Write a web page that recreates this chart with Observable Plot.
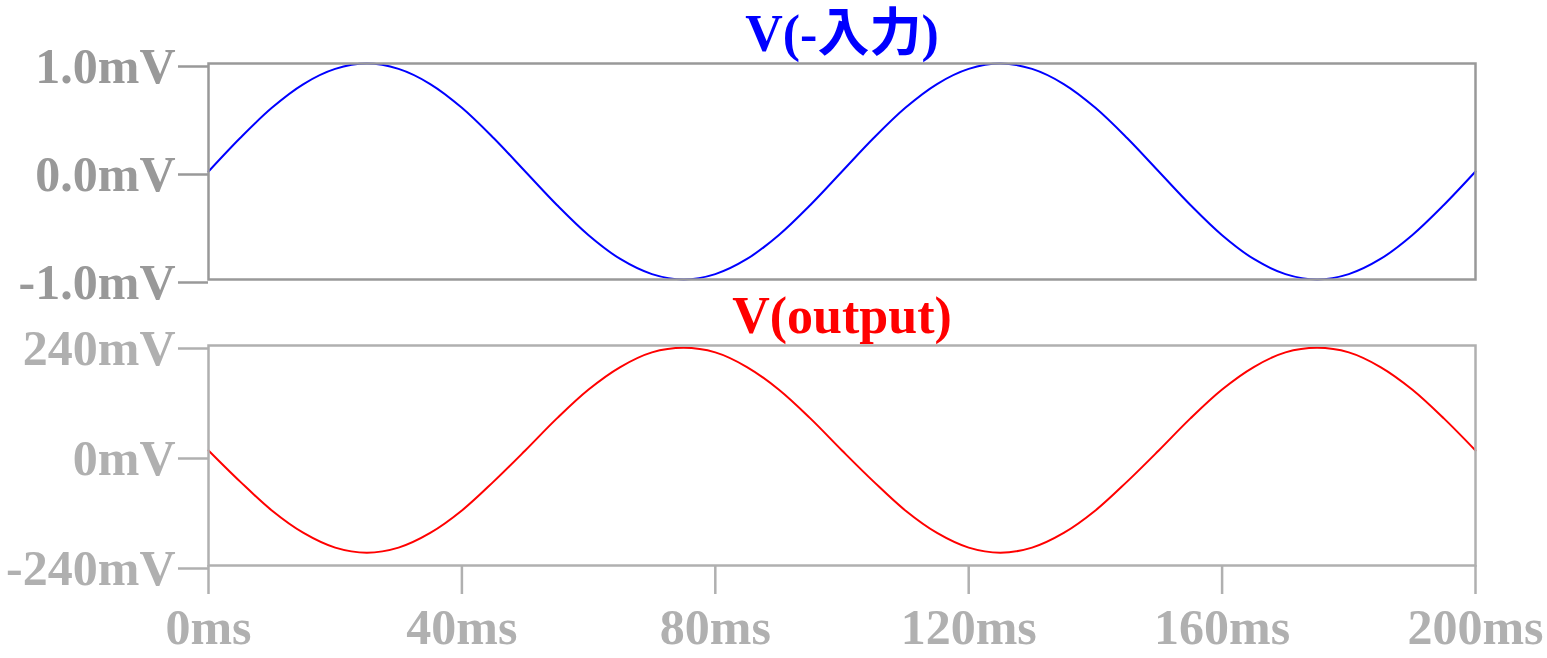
<!DOCTYPE html>
<html>
<head>
<meta charset="utf-8">
<script src="https://cdn.jsdelivr.net/npm/d3@7"></script>
<script src="https://cdn.jsdelivr.net/npm/@observablehq/plot@0.6"></script>
<style>
  html, body { margin: 0; padding: 0; background: #fff; }
  #wrap { position: relative; width: 1547px; height: 658px; overflow: hidden; }
  #wrap > div { position: absolute; left: 0; }
</style>
</head>
<body>
<div id="wrap"><div id="top" style="top:0"></div><div id="bot" style="top:300px"></div></div>
<script>
// Time samples (ms)
const timeMs = [0,5,10,15,20,25,30,35,40,45,50,55,60,65,70,75,80,85,90,95,100,
  105,110,115,120,125,130,135,140,145,150,155,160,165,170,175,180,185,190,195,200];
// V(-入力) in mV
const vInput = [0,0.31,0.59,0.81,0.95,1.0,0.95,0.81,0.59,0.31,0,-0.31,-0.59,-0.81,-0.95,-1.0,-0.95,-0.81,-0.59,-0.31,0,
  0.31,0.59,0.81,0.95,1.0,0.95,0.81,0.59,0.31,0,-0.31,-0.59,-0.81,-0.95,-1.0,-0.95,-0.81,-0.59,-0.31,0];
// V(output) in mV
const vOutput = [11,-57,-120,-169,-201,-212,-201,-169,-120,-57,11,81,144,193,225,235,225,193,144,81,11,
  -57,-120,-169,-201,-212,-201,-169,-120,-57,11,81,144,193,225,235,225,193,144,81,11];

const xTicks = [0,40,80,120,160,200];
const xTickLabels = ["0ms","40ms","80ms","120ms","160ms","200ms"];
const yTopTicks = [-1,0,1];
const yTopLabels = ["-1.0mV","0.0mV","1.0mV"];
const yBotTicks = [-240,0,240];
const yBotLabels = ["-240mV","0mV","240mV"];
const topTitle = "V(-入力)";
const botTitle = "V(output)";

const inputData = timeMs.map((t,i) => ({t, v: vInput[i]}));
const outputData = timeMs.map((t,i) => ({t, v: vOutput[i]}));

const FONT = "'Liberation Serif', 'Noto Sans CJK JP', serif";

const topPlot = Plot.plot({
  width: 1547, height: 300,
  marginTop: 63, marginBottom: 21, marginLeft: 208, marginRight: 72,
  style: {fontFamily: FONT, fontSize: "50px", fontWeight: "bold", color: "#999999", background: "#fff", overflow: "visible"},
  x: {domain: [0,200], axis: null},
  y: {domain: [-1,1], axis: null},
  marks: [
    Plot.axisY({ticks: yTopTicks, tickFormat: d => yTopLabels[yTopTicks.indexOf(d)], tickSize: 30, tickPadding: 3,
      strokeWidth: 2.5, dy: 3, label: null, fontSize: 50, fontWeight: "bold"}),
    Plot.line(inputData, {x: "t", y: "v", stroke: "#0000ff", strokeWidth: 2, curve: "catmull-rom"}),
    Plot.frame({stroke: "#999999", strokeWidth: 2.5}),
    Plot.text([topTitle], {frameAnchor: "top", text: d => d, dy: -13, lineAnchor: "bottom",
      fill: "#0000ff", fontSize: 52, fontWeight: "bold", fontFamily: FONT})
  ]
});
document.getElementById("top").appendChild(topPlot);

const botPlot = Plot.plot({
  width: 1547, height: 358,
  marginTop: 45, marginBottom: 93, marginLeft: 208, marginRight: 72,
  style: {fontFamily: FONT, fontSize: "50px", fontWeight: "bold", color: "#b0b0b0", background: "#fff", overflow: "visible"},
  x: {domain: [0,200], axis: null},
  y: {domain: [-240,240], axis: null},
  marks: [
    Plot.axisY({ticks: yBotTicks, tickFormat: d => yBotLabels[yBotTicks.indexOf(d)], tickSize: 30, tickPadding: 3,
      strokeWidth: 2.5, dy: 3, label: null, fontSize: 50, fontWeight: "bold"}),
    Plot.axisX({ticks: xTicks, tickFormat: d => xTickLabels[xTicks.indexOf(d)], tickSize: 29, tickPadding: 14,
      strokeWidth: 2.5, label: null, fontSize: 50, fontWeight: "bold"}),
    Plot.line(outputData, {x: "t", y: "v", stroke: "#ff0000", strokeWidth: 2, curve: "catmull-rom"}),
    Plot.frame({stroke: "#b0b0b0", strokeWidth: 2.5}),
    Plot.text([botTitle], {frameAnchor: "top", text: d => d, dy: -13, lineAnchor: "bottom",
      fill: "#ff0000", fontSize: 52, fontWeight: "bold", fontFamily: FONT})
  ]
});
document.getElementById("bot").appendChild(botPlot);
</script>
</body>
</html>
